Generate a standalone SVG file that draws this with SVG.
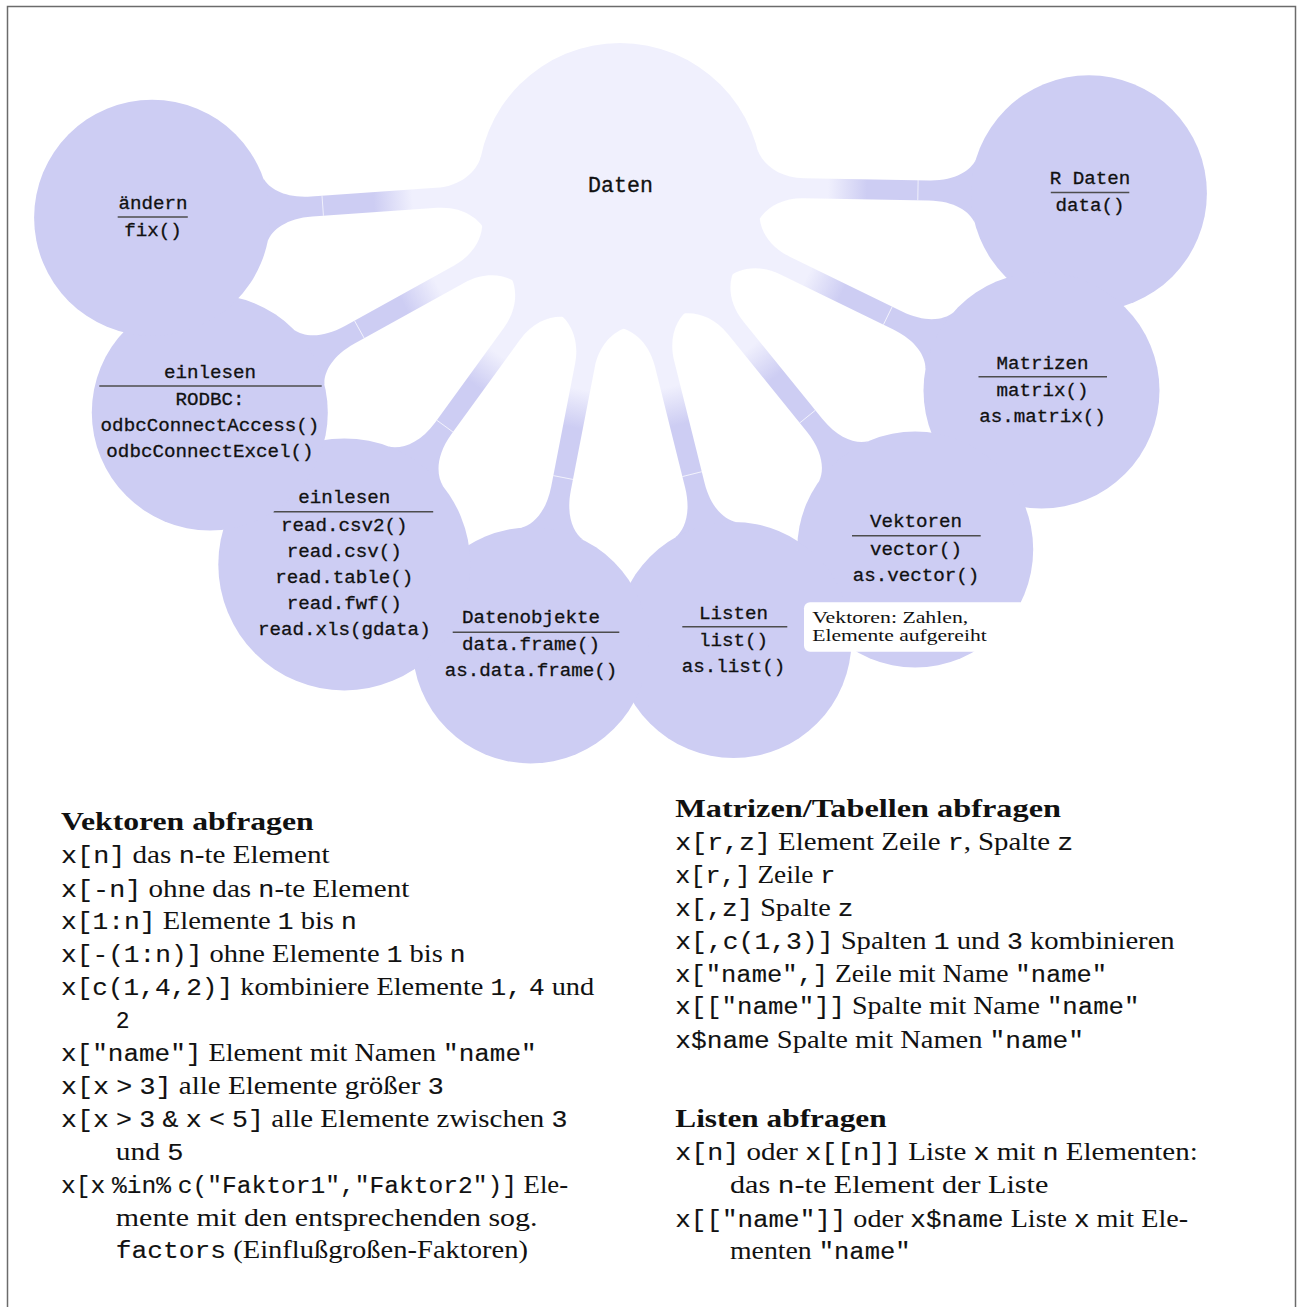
<svg xmlns="http://www.w3.org/2000/svg" width="1298" height="1307" viewBox="0 0 1298 1307">
  <style>
    .root { fill: #f0f0fd; }
    .concept { fill: #cdcdf3; }
    .bar { fill: url(#barShade); }
    .seam { stroke: #ffffff; stroke-width: 0.8; stroke-opacity: 0.85; }
    .rule { stroke: #4d4d4d; stroke-width: 1.4; }
    .nt { font-family: "Liberation Mono", "DejaVu Sans Mono", monospace; font-size: 19.2px; fill: #111; stroke: #111; stroke-width: 0.3; text-anchor: middle; }
    .doc { font-family: "Liberation Serif", "DejaVu Serif", serif; font-size: 25px; fill: #111; }
    .b { font-weight: bold; }
    .m { font-family: "Liberation Mono", "DejaVu Sans Mono", monospace; font-size: 23px; stroke: #111; stroke-width: 0.12; }
    .note { font-family: "Liberation Serif", "DejaVu Serif", serif; font-size: 17.6px; fill: #111; }
  </style>
  <defs>
    <!-- shading along a connection bar: root colour fading into the child colour -->
    <linearGradient id="barShade" gradientUnits="userSpaceOnUse" x1="208" y1="0" x2="247" y2="0">
      <stop offset="0" stop-color="#f0f0fd"/>
      <stop offset="1" stop-color="#cdcdf3"/>
    </linearGradient>
  </defs>

  <!-- page frame -->
  <rect x="7.5" y="6.5" width="1288" height="1320" fill="none" stroke="#6b6b6b" stroke-width="1.5"/>

  <!-- connection bars, drawn in a local frame: root centre at 0,0, child centre at 469,0 -->
  <g id="connectors">
    <g transform="translate(620 185) rotate(1)">
      <path class="bar" d="M136.8,-38 C142,-24 158,-10 184,-10 L309,-10 C335,-10 350.3,-20.5 355.3,-31.5 L355.3,31.5 C350.3,20.5 335,10 309,10 L184,10 C158,10 142,24 136.8,38 Z"/>
      <line class="seam" x1="298" y1="-10" x2="298" y2="10"/>
    </g>
    <g transform="translate(620 185) rotate(26)">
      <path class="bar" d="M136.8,-38 C142,-24 158,-10 184,-10 L309,-10 C335,-10 350.3,-20.5 355.3,-31.5 L355.3,31.5 C350.3,20.5 335,10 309,10 L184,10 C158,10 142,24 136.8,38 Z"/>
      <line class="seam" x1="298" y1="-10" x2="298" y2="10"/>
    </g>
    <g transform="translate(620 185) rotate(51)">
      <path class="bar" d="M136.8,-38 C142,-24 158,-10 184,-10 L309,-10 C335,-10 350.3,-20.5 355.3,-31.5 L355.3,31.5 C350.3,20.5 335,10 309,10 L184,10 C158,10 142,24 136.8,38 Z"/>
      <line class="seam" x1="298" y1="-10" x2="298" y2="10"/>
    </g>
    <g transform="translate(620 185) rotate(76)">
      <path class="bar" d="M136.8,-38 C142,-24 158,-10 184,-10 L309,-10 C335,-10 350.3,-20.5 355.3,-31.5 L355.3,31.5 C350.3,20.5 335,10 309,10 L184,10 C158,10 142,24 136.8,38 Z"/>
      <line class="seam" x1="298" y1="-10" x2="298" y2="10"/>
    </g>
    <g transform="translate(620 185) rotate(101)">
      <path class="bar" d="M136.8,-38 C142,-24 158,-10 184,-10 L309,-10 C335,-10 350.3,-20.5 355.3,-31.5 L355.3,31.5 C350.3,20.5 335,10 309,10 L184,10 C158,10 142,24 136.8,38 Z"/>
      <line class="seam" x1="298" y1="-10" x2="298" y2="10"/>
    </g>
    <g transform="translate(620 185) rotate(126)">
      <path class="bar" d="M136.8,-38 C142,-24 158,-10 184,-10 L301,-10 C327,-10 342.6,-21.7 347.6,-33.7 L347.6,33.7 C342.6,21.7 327,10 301,10 L184,10 C158,10 142,24 136.8,38 Z"/>
      <line class="seam" x1="298" y1="-10" x2="298" y2="10"/>
    </g>
    <g transform="translate(620 185) rotate(151)">
      <path class="bar" d="M136.8,-38 C142,-24 158,-10 184,-10 L309,-10 C335,-10 350.3,-20.5 355.3,-31.5 L355.3,31.5 C350.3,20.5 335,10 309,10 L184,10 C158,10 142,24 136.8,38 Z"/>
      <line class="seam" x1="298" y1="-10" x2="298" y2="10"/>
    </g>
    <g transform="translate(620 185) rotate(176)">
      <path class="bar" d="M136.8,-38 C142,-24 158,-10 184,-10 L309,-10 C335,-10 350.3,-20.5 355.3,-31.5 L355.3,31.5 C350.3,20.5 335,10 309,10 L184,10 C158,10 142,24 136.8,38 Z"/>
      <line class="seam" x1="298" y1="-10" x2="298" y2="10"/>
    </g>
  </g>

  <!-- root concept -->
  <g id="node-daten">
    <circle class="root" cx="620" cy="185" r="142"/>
    <text class="nt" x="620.5" y="192.3" style="font-size:21.6px">Daten</text>
  </g>

  <!-- child concepts -->
  <g id="node-r-daten">
    <circle class="concept" cx="1088.9" cy="193.2" r="118"/>
    <text class="nt" x="1090" y="184.2">R Daten</text>
    <line class="rule" x1="1050.8" y1="192.5" x2="1129.3" y2="192.5"/>
    <text class="nt" x="1090" y="211.4">data()</text>
  </g>
  <g id="node-matrizen">
    <circle class="concept" cx="1041.5" cy="390.6" r="118"/>
    <text class="nt" x="1042.5" y="368.6">Matrizen</text>
    <line class="rule" x1="978.5" y1="376.8" x2="1107" y2="376.8"/>
    <text class="nt" x="1042.5" y="395.6">matrix()</text>
    <text class="nt" x="1042.5" y="421.6">as.matrix()</text>
  </g>
  <g id="node-vektoren">
    <circle class="concept" cx="915.2" cy="549.5" r="118"/>
    <text class="nt" x="916" y="527.4">Vektoren</text>
    <line class="rule" x1="852" y1="535.8" x2="980.7" y2="535.8"/>
    <text class="nt" x="916" y="554.8">vector()</text>
    <text class="nt" x="916" y="580.8">as.vector()</text>
  </g>
  <g id="node-listen">
    <circle class="concept" cx="733.5" cy="640.1" r="118"/>
    <text class="nt" x="733.5" y="619">Listen</text>
    <line class="rule" x1="682.3" y1="626.8" x2="787.3" y2="626.8"/>
    <text class="nt" x="733.5" y="645.8">list()</text>
    <text class="nt" x="733.5" y="671.8">as.list()</text>
  </g>
  <g id="node-datenobjekte">
    <circle class="concept" cx="530.5" cy="645.4" r="118"/>
    <text class="nt" x="531" y="623.3">Datenobjekte</text>
    <line class="rule" x1="452.7" y1="632.2" x2="619.3" y2="632.2"/>
    <text class="nt" x="531" y="650">data.frame()</text>
    <text class="nt" x="531" y="676">as.data.frame()</text>
  </g>
  <g id="node-einlesen-read">
    <circle class="concept" cx="344.3" cy="564.4" r="126"/>
    <text class="nt" x="344.3" y="503.3">einlesen</text>
    <line class="rule" x1="273.5" y1="511.7" x2="433.2" y2="511.7"/>
    <text class="nt" x="344.3" y="530.7">read.csv2()</text>
    <text class="nt" x="344.3" y="556.7">read.csv()</text>
    <text class="nt" x="344.3" y="582.7">read.table()</text>
    <text class="nt" x="344.3" y="608.7">read.fwf()</text>
    <text class="nt" x="344.3" y="634.7">read.xls(gdata)</text>
  </g>
  <g id="node-einlesen-rodbc">
    <circle class="concept" cx="209.8" cy="412.4" r="118"/>
    <text class="nt" x="210" y="378.3">einlesen</text>
    <line class="rule" x1="99.3" y1="386" x2="321.7" y2="386"/>
    <text class="nt" x="210" y="405">RODBC:</text>
    <text class="nt" x="210" y="430.7">odbcConnectAccess()</text>
    <text class="nt" x="210" y="456.7">odbcConnectExcel()</text>
  </g>
  <g id="node-aendern">
    <circle class="concept" cx="152.1" cy="217.7" r="118"/>
    <text class="nt" x="153" y="208.7">ändern</text>
    <line class="rule" x1="117.7" y1="217" x2="187.8" y2="217"/>
    <text class="nt" x="153" y="235.7">fix()</text>
  </g>

  <!-- callout on the Vektoren concept -->
  <g id="note-vektoren">
    <rect x="804" y="602.3" width="222" height="49.5" rx="6" fill="#ffffff"/>
    <text class="note" x="812.3" y="622.7" textLength="156" lengthAdjust="spacingAndGlyphs">Vektoren: Zahlen,</text>
    <text class="note" x="812.3" y="640.7" textLength="174.4" lengthAdjust="spacingAndGlyphs">Elemente aufgereiht</text>
  </g>

  <!-- reference text, left column -->
  <g id="vektoren-abfragen">
    <text class="doc b" x="61" y="830" textLength="252.6" lengthAdjust="spacingAndGlyphs">Vektoren abfragen</text>
    <text class="doc" x="61" y="863.3" textLength="268.7" lengthAdjust="spacingAndGlyphs"><tspan class="m">x[n]</tspan> das <tspan class="m">n</tspan>-te Element</text>
    <text class="doc" x="61" y="896.7" textLength="348.3" lengthAdjust="spacingAndGlyphs"><tspan class="m">x[-n]</tspan> ohne das <tspan class="m">n</tspan>-te Element</text>
    <text class="doc" x="61" y="929.3" textLength="295.9" lengthAdjust="spacingAndGlyphs"><tspan class="m">x[1:n]</tspan> Elemente <tspan class="m">1</tspan> bis <tspan class="m">n</tspan></text>
    <text class="doc" x="61" y="962.3" textLength="404.6" lengthAdjust="spacingAndGlyphs"><tspan class="m">x[-(1:n)]</tspan> ohne Elemente <tspan class="m">1</tspan> bis <tspan class="m">n</tspan></text>
    <text class="doc" x="61" y="995" textLength="533.2" lengthAdjust="spacingAndGlyphs"><tspan class="m">x[c(1,4,2)]</tspan> kombiniere Elemente <tspan class="m">1,</tspan> <tspan class="m">4</tspan> und</text>
    <text class="doc" x="115.8" y="1027.7"><tspan class="m">2</tspan></text>
    <text class="doc" x="61" y="1060.7" textLength="475.7" lengthAdjust="spacingAndGlyphs"><tspan class="m">x["name"]</tspan> Element mit Namen <tspan class="m">"name"</tspan></text>
    <text class="doc" x="61" y="1094" textLength="382.7" lengthAdjust="spacingAndGlyphs"><tspan class="m">x[x</tspan> <tspan class="m">&gt;</tspan> <tspan class="m">3]</tspan> alle Elemente größer <tspan class="m">3</tspan></text>
    <text class="doc" x="61" y="1126.7" textLength="506.4" lengthAdjust="spacingAndGlyphs"><tspan class="m">x[x</tspan> <tspan class="m">&gt;</tspan> <tspan class="m">3</tspan> <tspan class="m">&amp;</tspan> <tspan class="m">x</tspan> <tspan class="m">&lt;</tspan> <tspan class="m">5]</tspan> alle Elemente zwischen <tspan class="m">3</tspan></text>
    <text class="doc" x="115.8" y="1160" textLength="67.7" lengthAdjust="spacingAndGlyphs">und <tspan class="m">5</tspan></text>
    <text class="doc" x="61" y="1192.7" textLength="507.1" lengthAdjust="spacingAndGlyphs"><tspan class="m">x[x</tspan> <tspan class="m">%in%</tspan> <tspan class="m">c("Faktor1","Faktor2")]</tspan> Ele-</text>
    <text class="doc" x="115.8" y="1225.7" textLength="421.7" lengthAdjust="spacingAndGlyphs">mente mit den entsprechenden sog.</text>
    <text class="doc" x="115.8" y="1258.3" textLength="412.2" lengthAdjust="spacingAndGlyphs"><tspan class="m">factors</tspan> (Einflußgroßen-Faktoren)</text>
  </g>

  <!-- reference text, right column -->
  <g id="matrizen-abfragen">
    <text class="doc b" x="675.3" y="816.7" textLength="385.7" lengthAdjust="spacingAndGlyphs">Matrizen/Tabellen abfragen</text>
    <text class="doc" x="675.3" y="850" textLength="398" lengthAdjust="spacingAndGlyphs"><tspan class="m">x[r,z]</tspan> Element Zeile <tspan class="m">r</tspan>, Spalte <tspan class="m">z</tspan></text>
    <text class="doc" x="675.3" y="883.3" textLength="160" lengthAdjust="spacingAndGlyphs"><tspan class="m">x[r,]</tspan> Zeile <tspan class="m">r</tspan></text>
    <text class="doc" x="675.3" y="916" textLength="178" lengthAdjust="spacingAndGlyphs"><tspan class="m">x[,z]</tspan> Spalte <tspan class="m">z</tspan></text>
    <text class="doc" x="675.3" y="949" textLength="499.4" lengthAdjust="spacingAndGlyphs"><tspan class="m">x[,c(1,3)]</tspan> Spalten <tspan class="m">1</tspan> und <tspan class="m">3</tspan> kombinieren</text>
    <text class="doc" x="675.3" y="981.7" textLength="431.7" lengthAdjust="spacingAndGlyphs"><tspan class="m">x["name",]</tspan> Zeile mit Name <tspan class="m">"name"</tspan></text>
    <text class="doc" x="675.3" y="1014.3" textLength="464.2" lengthAdjust="spacingAndGlyphs"><tspan class="m">x[["name"]]</tspan> Spalte mit Name <tspan class="m">"name"</tspan></text>
    <text class="doc" x="675.3" y="1047.7" textLength="408.7" lengthAdjust="spacingAndGlyphs"><tspan class="m">x$name</tspan> Spalte mit Namen <tspan class="m">"name"</tspan></text>
  </g>
  <g id="listen-abfragen">
    <text class="doc b" x="675.3" y="1126.7" textLength="211.3" lengthAdjust="spacingAndGlyphs">Listen abfragen</text>
    <text class="doc" x="675.3" y="1160" textLength="522.4" lengthAdjust="spacingAndGlyphs"><tspan class="m">x[n]</tspan> oder <tspan class="m">x[[n]]</tspan> Liste <tspan class="m">x</tspan> mit <tspan class="m">n</tspan> Elementen:</text>
    <text class="doc" x="730" y="1193.3" textLength="318.4" lengthAdjust="spacingAndGlyphs">das <tspan class="m">n</tspan>-te Element der Liste</text>
    <text class="doc" x="675.3" y="1226.7" textLength="512.8" lengthAdjust="spacingAndGlyphs"><tspan class="m">x[["name"]]</tspan> oder <tspan class="m">x$name</tspan> Liste <tspan class="m">x</tspan> mit Ele-</text>
    <text class="doc" x="730" y="1259.3" textLength="180.7" lengthAdjust="spacingAndGlyphs">menten <tspan class="m">"name"</tspan></text>
  </g>
</svg>
